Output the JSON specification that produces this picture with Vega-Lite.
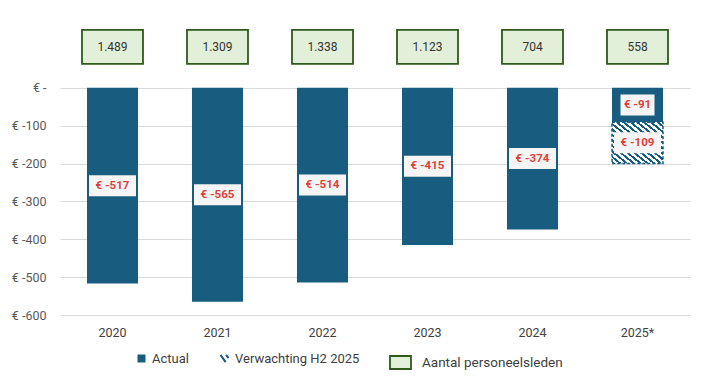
{
  "$schema": "https://vega.github.io/schema/vega-lite/v6.json",
  "width": 630,
  "height": 303,
  "autosize": {"type": "none"},
  "padding": {"left": 60, "top": 12, "right": 19, "bottom": 72},
  "background": "white",
  "config": {
    "view": {"stroke": null},
    "font": "Roboto",
    "locale": {"number": {"decimal": ",", "thousands": ".", "grouping": [3], "currency": ["€", ""]}},
    "axisY": {"domain": false, "ticks": false, "labelPadding": 14, "labelFontSize": 12.5, "labelColor": "#595959", "gridColor": "#d9d9d9", "gridWidth": 1, "grid": true}
  },
  "datasets": {
    "bars": [
      {"year": "2020", "type": "Actual", "value": -517},
      {"year": "2021", "type": "Actual", "value": -565},
      {"year": "2022", "type": "Actual", "value": -514},
      {"year": "2023", "type": "Actual", "value": -415},
      {"year": "2024", "type": "Actual", "value": -374},
      {"year": "2025*", "type": "Actual", "value": -91},
      {"year": "2025*", "type": "Verwachting H2 2025", "value": -109}
    ],
    "staff": [
      {"year": "2020", "staff": 1489},
      {"year": "2021", "staff": 1309},
      {"year": "2022", "staff": 1338},
      {"year": "2023", "staff": 1123},
      {"year": "2024", "staff": 704},
      {"year": "2025*", "staff": 558}
    ]
  },
  "encoding": {
    "x": {
      "field": "year",
      "type": "nominal",
      "sort": null,
      "scale": {"paddingInner": 0.514, "paddingOuter": 0.257},
      "axis": {"title": null, "domain": false, "ticks": false, "labelAngle": 0, "labelPadding": 11, "labelFontSize": 12.5, "labelColor": "#404040", "grid": false}
    }
  },
  "layer": [
    {
      "data": {"name": "bars"},
      "mark": {"type": "bar"},
      "encoding": {
        "y": {
          "field": "value",
          "type": "quantitative",
          "stack": "zero",
          "scale": {"domain": [-600, 200], "nice": false, "zero": false},
          "axis": {"title": null, "values": [0, -100, -200, -300, -400, -500, -600], "labelExpr": "datum.value === 0 ? '€ -' : '€ ' + datum.value"}
        },
        "order": {"field": "type", "sort": "ascending"},
        "color": {
          "field": "type",
          "type": "nominal",
          "scale": {"domain": ["Actual", "Verwachting H2 2025"], "range": ["#185c80", "#ffffff"]},
          "legend": {
            "title": null,
            "values": ["Actual"],
            "orient": "none",
            "legendX": 75,
            "legendY": 340,
            "symbolType": "square",
            "symbolSize": 64,
            "symbolStrokeWidth": 0,
            "labelFontSize": 13,
            "labelColor": "#404040",
            "labelOffset": 4
          }
        }
      }
    },
    {
      "data": {"name": "bars"},
      "mark": {"type": "bar", "strokeDash": [3, 2], "strokeWidth": 1.5},
      "encoding": {
        "y": {"field": "value", "type": "quantitative", "stack": "zero", "axis": {"title": null, "values": [0, -100, -200, -300, -400, -500, -600], "labelExpr": "datum.value === 0 ? '€ -' : '€ ' + datum.value"}},
        "order": {"field": "type", "sort": "ascending"},
        "detail": {"field": "type"},
        "opacity": {
          "datum": "Verwachting H2 2025",
          "type": "nominal",
          "scale": {"range": [1]},
          "legend": {
            "title": null,
            "orient": "none",
            "legendX": 158,
            "legendY": 340,
            "symbolType": "M-1,-0.9L0.3,0.9M0.4,-0.9L1,-0.1",
            "symbolSize": 64,
            "symbolStrokeColor": "#185c80",
            "symbolStrokeWidth": 2,
            "symbolFillColor": "transparent",
            "labelFontSize": 13,
            "labelColor": "#404040",
            "labelOffset": 4
          }
        },
        "fill": {
          "condition": {
            "test": "datum.type === 'Verwachting H2 2025'",
            "value": {
              "gradient": "linear", "x1": 0, "y1": 1, "x2": 1, "y2": 0,
              "stops": [
                {"offset": 0, "color": "#185c80"}, {"offset": 0.03, "color": "#185c80"}, {"offset": 0.03, "color": "#ffffff"}, {"offset": 0.0667, "color": "#ffffff"},
                {"offset": 0.0667, "color": "#185c80"}, {"offset": 0.0967, "color": "#185c80"}, {"offset": 0.0967, "color": "#ffffff"}, {"offset": 0.1333, "color": "#ffffff"},
                {"offset": 0.1333, "color": "#185c80"}, {"offset": 0.1633, "color": "#185c80"}, {"offset": 0.1633, "color": "#ffffff"}, {"offset": 0.2, "color": "#ffffff"},
                {"offset": 0.2, "color": "#185c80"}, {"offset": 0.23, "color": "#185c80"}, {"offset": 0.23, "color": "#ffffff"}, {"offset": 0.2667, "color": "#ffffff"},
                {"offset": 0.2667, "color": "#185c80"}, {"offset": 0.2967, "color": "#185c80"}, {"offset": 0.2967, "color": "#ffffff"}, {"offset": 0.3333, "color": "#ffffff"},
                {"offset": 0.3333, "color": "#185c80"}, {"offset": 0.3633, "color": "#185c80"}, {"offset": 0.3633, "color": "#ffffff"}, {"offset": 0.4, "color": "#ffffff"},
                {"offset": 0.4, "color": "#185c80"}, {"offset": 0.43, "color": "#185c80"}, {"offset": 0.43, "color": "#ffffff"}, {"offset": 0.4667, "color": "#ffffff"},
                {"offset": 0.4667, "color": "#185c80"}, {"offset": 0.4967, "color": "#185c80"}, {"offset": 0.4967, "color": "#ffffff"}, {"offset": 0.5333, "color": "#ffffff"},
                {"offset": 0.5333, "color": "#185c80"}, {"offset": 0.5633, "color": "#185c80"}, {"offset": 0.5633, "color": "#ffffff"}, {"offset": 0.6, "color": "#ffffff"},
                {"offset": 0.6, "color": "#185c80"}, {"offset": 0.63, "color": "#185c80"}, {"offset": 0.63, "color": "#ffffff"}, {"offset": 0.6667, "color": "#ffffff"},
                {"offset": 0.6667, "color": "#185c80"}, {"offset": 0.6967, "color": "#185c80"}, {"offset": 0.6967, "color": "#ffffff"}, {"offset": 0.7333, "color": "#ffffff"},
                {"offset": 0.7333, "color": "#185c80"}, {"offset": 0.7633, "color": "#185c80"}, {"offset": 0.7633, "color": "#ffffff"}, {"offset": 0.8, "color": "#ffffff"},
                {"offset": 0.8, "color": "#185c80"}, {"offset": 0.83, "color": "#185c80"}, {"offset": 0.83, "color": "#ffffff"}, {"offset": 0.8667, "color": "#ffffff"},
                {"offset": 0.8667, "color": "#185c80"}, {"offset": 0.8967, "color": "#185c80"}, {"offset": 0.8967, "color": "#ffffff"}, {"offset": 0.9333, "color": "#ffffff"},
                {"offset": 0.9333, "color": "#185c80"}, {"offset": 0.9633, "color": "#185c80"}, {"offset": 0.9633, "color": "#ffffff"}, {"offset": 1, "color": "#ffffff"}
              ]
            }
          },
          "value": "transparent"
        },
        "stroke": {
          "condition": {"test": "datum.type === 'Verwachting H2 2025'", "value": "#185c80"},
          "value": "transparent"
        }
      }
    },
    {
      "data": {"name": "bars"},
      "mark": {"type": "tick", "thickness": 21, "color": "#f5f5f5", "opacity": 1},
      "encoding": {
        "y": {"field": "value", "type": "quantitative", "stack": "zero", "bandPosition": 0.5, "axis": {"title": null, "values": [0, -100, -200, -300, -400, -500, -600], "labelExpr": "datum.value === 0 ? '€ -' : '€ ' + datum.value"}},
        "order": {"field": "type", "sort": "ascending"},
        "detail": {"field": "type"},
        "size": {"condition": {"test": "datum.value > -100", "value": 34}, "value": 47}
      }
    },
    {
      "data": {"name": "bars"},
      "mark": {"type": "text", "fontWeight": "bold", "fontSize": 11.5, "color": "#e0403a", "baseline": "middle", "align": "center", "text": {"expr": "'€ ' + datum.value"}},
      "encoding": {
        "y": {"field": "value", "type": "quantitative", "stack": "zero", "bandPosition": 0.5, "axis": {"title": null, "values": [0, -100, -200, -300, -400, -500, -600], "labelExpr": "datum.value === 0 ? '€ -' : '€ ' + datum.value"}},
        "order": {"field": "type", "sort": "ascending"},
        "detail": {"field": "type"}
      }
    },
    {
      "data": {"name": "staff"},
      "mark": {"type": "bar", "width": 61, "stroke": "#2f5a1c", "strokeWidth": 1.8},
      "encoding": {
        "y": {"datum": 63, "type": "quantitative", "axis": {"title": null, "values": [0, -100, -200, -300, -400, -500, -600], "labelExpr": "datum.value === 0 ? '€ -' : '€ ' + datum.value"}},
        "y2": {"datum": 153},
        "fill": {
          "datum": "Aantal personeelsleden",
          "type": "nominal",
          "scale": {"range": ["#e2f0d9"]},
          "legend": {
            "title": null,
            "orient": "none",
            "legendX": 329,
            "legendY": 339,
            "symbolType": "M-1,-0.62L1,-0.62L1,0.62L-1,0.62Z",
            "symbolSize": 441,
            "symbolStrokeColor": "#2f5a1c",
            "symbolStrokeWidth": 1.8,
            "labelFontSize": 13.5,
            "labelColor": "#404040",
            "labelOffset": 10
          }
        }
      }
    },
    {
      "data": {"name": "staff"},
      "mark": {"type": "text", "fontSize": 12, "color": "#333333", "baseline": "middle", "align": "center"},
      "encoding": {
        "y": {"datum": 108, "type": "quantitative", "axis": {"title": null, "values": [0, -100, -200, -300, -400, -500, -600], "labelExpr": "datum.value === 0 ? '€ -' : '€ ' + datum.value"}},
        "text": {"field": "staff", "type": "quantitative", "format": ",d"}
      }
    }
  ]
}
